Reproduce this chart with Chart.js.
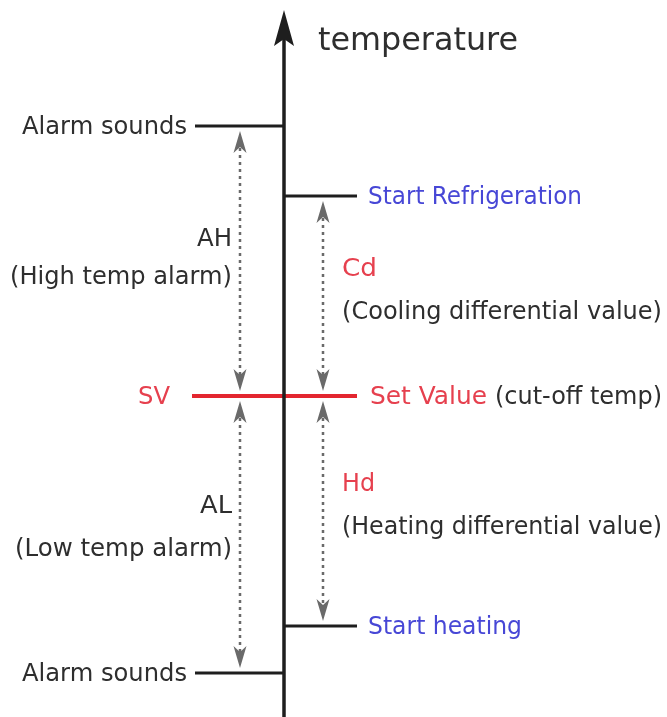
<!DOCTYPE html>
<html><head><meta charset="utf-8">
<script src="https://cdn.jsdelivr.net/npm/chart.js@4/dist/chart.umd.min.js"></script>
<style>html,body{margin:0;padding:0;background:#fff;overflow:hidden}</style>
</head><body>
<canvas id="c" width="667" height="717"></canvas>
<script>
// ---- DATA (temperatures relative to the set value, arbitrary units) ----
const setValue = 0;
const alarmHighOffset = 27.0;   // AH
const coolingDiff = 20.0;       // Cd
const heatingDiff = 23.0;       // Hd
const alarmLowOffset = 27.7;    // AL
const levelNames = ['Alarm sounds', 'Start Refrigeration', 'Set Value', 'Start heating', 'Alarm sounds'];
const levelValues = [setValue + alarmHighOffset, setValue + coolingDiff, setValue, setValue - heatingDiff, setValue - alarmLowOffset];
const axisRange = [-32.1, 39.6];
const axisTip = 38.6;
const axisTitle = 'temperature';
const svLabel = 'SV';
const svNote = '(cut-off temp)';
const diffLabels = ['AH', '(High temp alarm)', 'Cd', '(Cooling differential value)', 'AL', '(Low temp alarm)', 'Hd', '(Heating differential value)'];

// ---- LAYOUT / STYLE ----
const L = {
  axisX: 284, leftArrowX: 240, rightArrowX: 323,
  lineExt: [[195, 284], [284, 357], [192, 357], [284, 357], [195, 284]],
  black: '#1e1e1e', text: '#2e2e2e', red: '#e3262f', redText: '#e6404e', blue: '#4747d6', gray: '#6a6a6a',
  font: '"DejaVu Sans", sans-serif', fs: 24
};
const levelColors = [L.black, L.black, L.red, L.black, L.black];
const levelWidths = [3, 3, 4, 3, 3];

const datasets = [];
datasets.push({data: [{x: L.axisX, y: axisRange[0]}, {x: L.axisX, y: axisTip - 2.5}], borderColor: L.black, borderWidth: 3.5});
levelValues.forEach((v, i) => {
  datasets.push({data: [{x: L.lineExt[i][0], y: v}, {x: L.lineExt[i][1], y: v}], borderColor: levelColors[i], borderWidth: levelWidths[i]});
});
const shafts = [
  [L.leftArrowX, levelValues[0], levelValues[2]],
  [L.leftArrowX, levelValues[2], levelValues[4]],
  [L.rightArrowX, levelValues[1], levelValues[2]],
  [L.rightArrowX, levelValues[2], levelValues[3]]
];
shafts.forEach(s => {
  datasets.push({data: [{x: s[0], y: s[1] - 1.5}, {x: s[0], y: s[2] + 1.5}], borderColor: L.gray, borderWidth: 2.5, borderDash: [3, 4], borderCapStyle: 'butt'});
});
datasets.forEach(d => { d.showLine = true; d.pointRadius = 0; d.fill = false; });

function arrowHead(ctx, x, tipY, dir, len, hw, notch, color) {
  ctx.save();
  ctx.fillStyle = color;
  ctx.beginPath();
  ctx.moveTo(x, tipY);
  ctx.lineTo(x - hw, tipY - dir * len);
  ctx.lineTo(x, tipY - dir * (len - notch));
  ctx.lineTo(x + hw, tipY - dir * len);
  ctx.closePath();
  ctx.fill();
  ctx.restore();
}
function txt(ctx, s, x, y, color, align, targetW, fs) {
  ctx.save();
  ctx.font = (fs || L.fs) + 'px ' + L.font;
  ctx.fillStyle = color;
  ctx.textBaseline = 'alphabetic';
  const w = ctx.measureText(s).width;
  const sx = targetW / w;
  ctx.translate(x, y);
  ctx.scale(sx, 1);
  ctx.textAlign = align;
  ctx.fillText(s, 0, 0);
  ctx.restore();
}

const deco = {
  id: 'deco',
  afterDatasetsDraw(chart) {
    const ctx = chart.ctx;
    const ys = chart.scales.y;
    const py = v => ys.getPixelForValue(v);
    arrowHead(ctx, L.axisX, py(axisTip), -1, 36, 10, 7, L.black);
    shafts.forEach(s => {
      const top = py(s[1]), bot = py(s[2]);
      arrowHead(ctx, s[0], top + 5, -1, 22, 6.5, 6, L.gray);
      arrowHead(ctx, s[0], bot - 5, 1, 22, 6.5, 6, L.gray);
    });
    txt(ctx, axisTitle, 318, 50, L.text, 'left', 200, 32);
    txt(ctx, levelNames[0], 187, py(levelValues[0]) + 8, L.text, 'right', 165);
    txt(ctx, levelNames[1], 368, py(levelValues[1]) + 8, L.blue, 'left', 214);
    txt(ctx, svLabel, 170, py(levelValues[2]) + 8, L.redText, 'right', 32);
    txt(ctx, levelNames[2], 370, py(levelValues[2]) + 8, L.redText, 'left', 117);
    txt(ctx, svNote, 662, py(levelValues[2]) + 8, L.text, 'right', 167);
    txt(ctx, levelNames[3], 368, py(levelValues[3]) + 8, L.blue, 'left', 154);
    txt(ctx, levelNames[4], 187, py(levelValues[4]) + 8, L.text, 'right', 165);
    txt(ctx, diffLabels[0], 232, 246, L.text, 'right', 35);
    txt(ctx, diffLabels[1], 232, 284, L.text, 'right', 222);
    txt(ctx, diffLabels[2], 342, 276, L.redText, 'left', 35);
    txt(ctx, diffLabels[3], 342, 319, L.text, 'left', 320);
    txt(ctx, diffLabels[4], 232, 513, L.text, 'right', 32);
    txt(ctx, diffLabels[5], 232, 556, L.text, 'right', 217);
    txt(ctx, diffLabels[6], 342, 491, L.redText, 'left', 33);
    txt(ctx, diffLabels[7], 342, 534, L.text, 'left', 320);
  }
};

new Chart(document.getElementById('c'), {
  type: 'scatter',
  data: {datasets},
  options: {
    responsive: false, animation: false, devicePixelRatio: 1, events: [],
    layout: {padding: 0},
    plugins: {legend: {display: false}, tooltip: {enabled: false}},
    scales: {
      x: {type: 'linear', min: 0, max: 667, display: false},
      y: {type: 'linear', min: axisRange[0], max: axisRange[1], display: false}
    }
  },
  plugins: [deco]
});
</script>
</body></html>
